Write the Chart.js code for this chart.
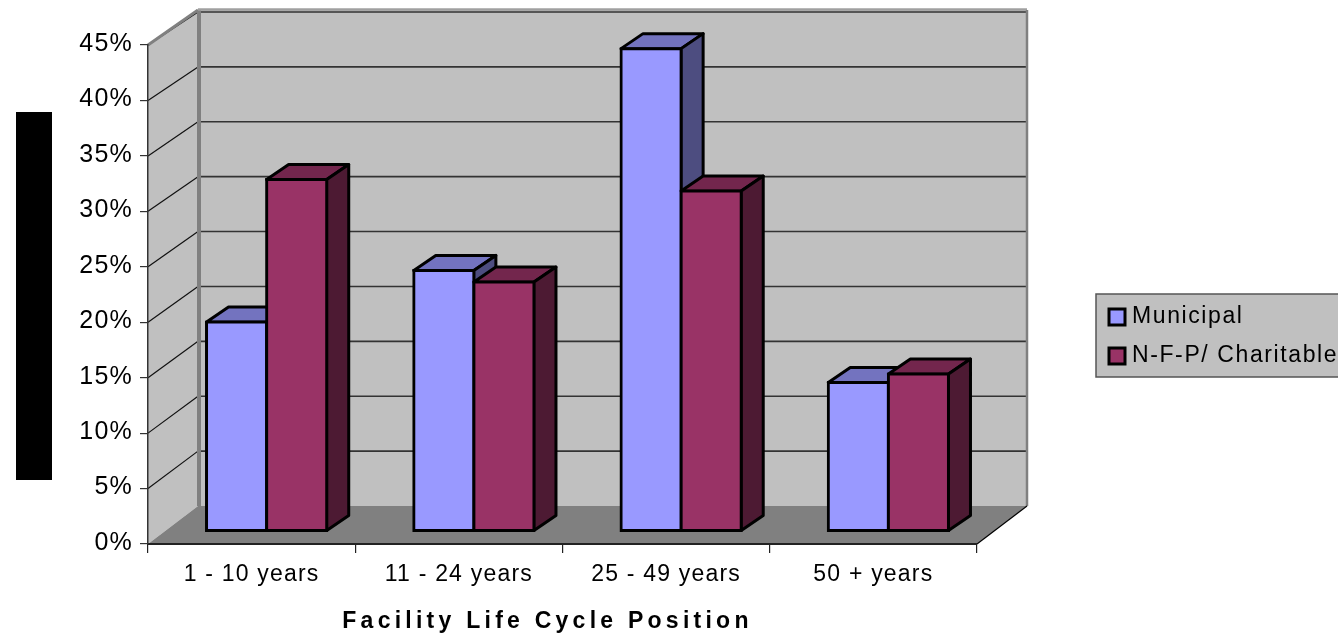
<!DOCTYPE html>
<html>
<head>
<meta charset="utf-8">
<style>html,body{margin:0;padding:0;background:#fff}canvas{display:block}</style>
<script src="https://cdn.jsdelivr.net/npm/chart.js@4/dist/chart.umd.js"></script>
</head>
<body>
<canvas id="c" width="1338" height="636"></canvas>
<script>
const categories = ['1 - 10 years', '11 - 24 years', '25 - 49 years', '50 + years'];
const municipal = [18.85, 23.5, 43.5, 13.4];
const charitable = [31.7, 22.45, 30.66, 14.15];
const seriesNames = ['Municipal', 'N-F-P/ Charitable'];
const xAxisTitle = 'Facility Life Cycle Position';

const FONT = '"Liberation Sans", Arial, sans-serif';
const BAR_SHIFT = [15, -13], BAR_DEPTH = [22, -15];
const WALL = {dx: 50, top: 12, bottom: 506};

function poly(ctx, pts, fill, stroke, lw) {
  ctx.beginPath();
  pts.forEach((p, i) => i ? ctx.lineTo(p[0], p[1]) : ctx.moveTo(p[0], p[1]));
  ctx.closePath();
  if (fill) { ctx.fillStyle = fill; ctx.fill(); }
  if (stroke) { ctx.strokeStyle = stroke; ctx.lineWidth = lw; ctx.lineJoin = 'round'; ctx.stroke(); }
}
function line(ctx, x1, y1, x2, y2, color, lw) {
  ctx.beginPath(); ctx.moveTo(x1, y1); ctx.lineTo(x2, y2);
  ctx.strokeStyle = color; ctx.lineWidth = lw; ctx.stroke();
}

const scene3d = {
  id: 'scene3d',
  beforeDraw(chart) {
    const ctx = chart.ctx, a = chart.chartArea, y = chart.scales.y;
    const L = a.left, R = a.right, T = a.top, B = a.bottom, d = WALL.dx;
    const backY = p => WALL.top + (p - T) * (WALL.bottom - WALL.top) / (B - T);
    ctx.save();
    poly(ctx, [[L + d, 10], [R + d, 10], [R + d, WALL.bottom], [L + d, WALL.bottom]], '#c0c0c0');
    poly(ctx, [[L, T], [L + d, 10], [L + d, WALL.bottom], [L, B]], '#c0c0c0');
    poly(ctx, [[L, B], [L + d, WALL.bottom], [R + d, WALL.bottom], [R, B]], '#808080');
    y.ticks.forEach(t => {
      const p = y.getPixelForValue(t.value), q = backY(p);
      if (t.value > 0) {
        line(ctx, L, p, L + d, q, '#111', 1.2);
        line(ctx, L + d, q, R + d, q, '#333', 1.6);
      }
    });
    line(ctx, L + d + 1, 10, L + d + 1, WALL.bottom, '#808080', 4);
    line(ctx, L, T, L + d, 10, '#808080', 3);
    line(ctx, L + d, 9.5, R + d, 9.5, '#a0a0a0', 2.5);
    line(ctx, R + d, 10, R + d, WALL.bottom, '#808080', 2.5);
    line(ctx, R, B, R + d, WALL.bottom, '#000', 1.2);
    ctx.restore();
    ctx.letterSpacing = '1.2px';
  },
  beforeDatasetsDraw(chart) {
    const ctx = chart.ctx;
    chart.data.datasets.forEach((ds, i) => {
      const meta = chart.getDatasetMeta(i);
      ctx.save();
      ctx.translate(BAR_SHIFT[0], BAR_SHIFT[1]);
      meta.data.forEach(el => {
        const {x, y, base, width} = el.getProps(['x', 'y', 'base', 'width'], true);
        const l = x - width / 2, r = x + width / 2, dx = BAR_DEPTH[0], dy = BAR_DEPTH[1];
        poly(ctx, [[l, y], [l + dx, y + dy], [r + dx, y + dy], [r, y]], ds.topColor, '#000', 3);
        poly(ctx, [[r, y], [r + dx, y + dy], [r + dx, base + dy], [r, base]], ds.sideColor, '#000', 3);
      });
      meta.controller.draw();
      ctx.restore();
    });
    return false;
  },
  afterDraw(chart) {
    const ctx = chart.ctx;
    ctx.save();
    ctx.letterSpacing = '0px';
    ctx.fillStyle = '#000';
    ctx.fillRect(16, 112, 36, 368);
    ctx.fillStyle = '#c0c0c0';
    ctx.fillRect(1096, 294, 242, 83);
    ctx.strokeStyle = '#555'; ctx.lineWidth = 1.5;
    ctx.strokeRect(1096, 294, 243, 83);
    const swatchY = [309, 348], textY = [323, 362];
    chart.data.datasets.forEach((ds, i) => {
      ctx.fillStyle = ds.backgroundColor;
      ctx.fillRect(1109, swatchY[i], 16, 16);
      ctx.strokeStyle = '#000'; ctx.lineWidth = 3;
      ctx.strokeRect(1109, swatchY[i], 16, 16);
      ctx.fillStyle = '#000';
      ctx.font = '23px ' + FONT;
      ctx.letterSpacing = '1.6px';
      ctx.textAlign = 'left'; ctx.textBaseline = 'alphabetic';
      ctx.fillText(ds.label, 1132, textY[i]);
    });
    ctx.restore();
  }
};

const chart = new Chart(document.getElementById('c'), {
  type: 'bar',
  plugins: [scene3d],
  data: {
    labels: categories,
    datasets: [
      {label: seriesNames[0], data: municipal, backgroundColor: '#9999ff', topColor: '#7373bf', sideColor: '#4d4d80'},
      {label: seriesNames[1], data: charitable, backgroundColor: '#993366', topColor: '#73264d', sideColor: '#4d1a33'}
    ]
  },
  options: {
    responsive: false,
    animation: false,
    layout: {padding: {left: 0, top: 45, right: 361, bottom: 0}},
    datasets: {bar: {barPercentage: 1, categoryPercentage: 0.58, borderWidth: 3, inflateAmount: 1.5, borderColor: '#000', borderSkipped: false}},
    plugins: {legend: {display: false}, tooltip: {enabled: false}, title: {display: false}},
    scales: {
      x: {
        afterFit(s) { s.height = 92; },
        grid: {drawOnChartArea: false, drawTicks: true, tickLength: 9, color: '#222', lineWidth: 1.2},
        border: {display: true, color: '#222', width: 2},
        ticks: {color: '#000', font: {family: FONT, size: 23}, padding: 8, maxRotation: 0, autoSkip: false},
        title: {display: true, text: xAxisTitle, color: '#000', font: {family: FONT, size: 23, weight: 'bold'}, padding: {top: 0, bottom: 1}}
      },
      y: {
        min: 0, max: 45,
        afterFit(s) { s.width = 148; },
        grid: {drawOnChartArea: false, drawTicks: true, tickLength: 8, color: '#333', lineWidth: 1.2},
        border: {display: true, color: '#333', width: 1.5},
        ticks: {stepSize: 5, color: '#000', font: {family: FONT, size: 25}, padding: 7, labelOffset: -1, callback: v => v + '%'}
      }
    }
  }
});
const origTitle = chart.scales.x.drawTitle;
chart.scales.x.drawTitle = function () {
  const c = this.ctx, prev = c.letterSpacing;
  c.save();
  c.letterSpacing = '4.25px';
  c.translate(-15, 0);
  origTitle.call(this);
  c.restore();
  c.letterSpacing = prev;
};
chart.draw();
</script>
</body>
</html>
